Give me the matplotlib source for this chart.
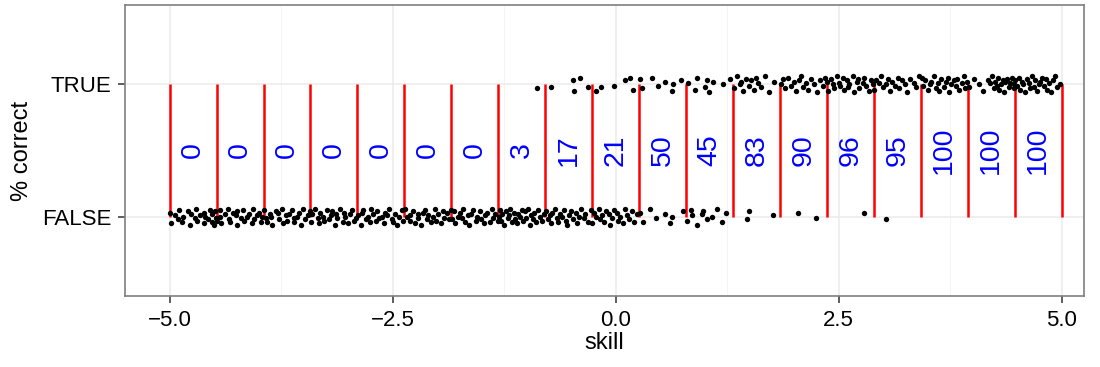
import numpy as np
import matplotlib
matplotlib.use("Agg")
import matplotlib.pyplot as plt

plt.rcParams['font.family'] = ['Liberation Sans', 'DejaVu Sans']

# skill of every item answered wrong / right, grouped by bin
false_skill = [
    -4.99, -4.98, -4.94, -4.91, -4.90, -4.86, -4.85, -4.79, -4.77, -4.76, -4.72, -4.70,
    -4.69, -4.66, -4.62, -4.61, -4.60, -4.57, -4.55, -4.53, -4.52, -4.50, -4.49, -4.48,
    -4.47, -4.44, -4.43, -4.42, -4.38, -4.35, -4.33, -4.32, -4.29, -4.26, -4.25, -4.24,
    -4.20, -4.18, -4.17, -4.13, -4.11, -4.08, -4.07, -4.05, -4.02, -4.00, -3.98, -3.96,
    -3.94, -3.92, -3.91, -3.88, -3.86, -3.85, -3.81, -3.78, -3.77, -3.74, -3.73, -3.70,
    -3.68, -3.66, -3.63, -3.61, -3.60, -3.57, -3.55, -3.53, -3.50, -3.48, -3.45, -3.43,
    -3.41, -3.40, -3.37, -3.34, -3.33, -3.31, -3.28, -3.27, -3.24, -3.21, -3.19, -3.18,
    -3.15, -3.13, -3.12, -3.09, -3.06, -3.04, -3.03, -3.00, -2.98, -2.96, -2.93, -2.91,
    -2.89, -2.86, -2.84, -2.83, -2.80, -2.78, -2.75, -2.74, -2.72, -2.69, -2.67, -2.65,
    -2.62, -2.60, -2.59, -2.56, -2.54, -2.51, -2.50, -2.47, -2.45, -2.43, -2.40, -2.38,
    -2.36, -2.34, -2.31, -2.30, -2.27, -2.25, -2.22, -2.21, -2.18, -2.16, -2.14, -2.12,
    -2.10, -2.07, -2.05, -2.03, -2.01, -1.99, -1.96, -1.94, -1.92, -1.89, -1.87, -1.85,
    -1.84, -1.81, -1.80, -1.77, -1.75, -1.72, -1.71, -1.69, -1.66, -1.64, -1.62, -1.60,
    -1.57, -1.55, -1.52, -1.51, -1.48, -1.46, -1.44, -1.41, -1.39, -1.37, -1.35, -1.32,
    -1.31, -1.30, -1.28, -1.27, -1.25, -1.23, -1.21, -1.20, -1.18, -1.16, -1.14, -1.13,
    -1.11, -1.09, -1.07, -1.05, -1.04, -1.02, -1.00, -0.98, -0.96, -0.95, -0.93, -0.91,
    -0.89, -0.87, -0.85, -0.83, -0.80,
    -0.78, -0.76, -0.74, -0.73, -0.71, -0.68, -0.66, -0.65, -0.62, -0.60, -0.58, -0.56,
    -0.54, -0.52, -0.50, -0.48, -0.45, -0.43, -0.41, -0.39, -0.36, -0.34, -0.31, -0.28,
    -0.26, -0.24, -0.22, -0.19, -0.17, -0.15, -0.13, -0.11, -0.08, -0.06, -0.04, -0.02,
    0.01, 0.03, 0.05, 0.08, 0.10, 0.13, 0.15, 0.18, 0.21, 0.24,
    0.27, 0.31, 0.38, 0.45, 0.55, 0.61, 0.63, 0.75,
    0.80, 0.84, 0.86, 0.91, 0.97, 0.98, 1.02, 1.08, 1.14, 1.19, 1.24,
    1.47, 1.50, 1.76,
    2.04, 2.25,
    2.78,
    3.03,
]
true_skill = [
    -0.88,
    -0.72, -0.48, -0.47, -0.40, -0.31,
    -0.22, -0.16, -0.02, 0.10, 0.16, 0.20,
    0.27, 0.30, 0.41, 0.47, 0.55, 0.63, 0.64, 0.73,
    0.81, 0.89, 0.91, 1.00, 1.02, 1.05, 1.09, 1.20, 1.28,
    1.33, 1.36, 1.39, 1.41, 1.43, 1.46, 1.49, 1.52, 1.55, 1.57, 1.60, 1.63, 1.67, 1.72, 1.78,
    1.85, 1.88, 1.90, 1.93, 1.97, 2.00, 2.02, 2.05, 2.08, 2.10, 2.13, 2.16, 2.19, 2.22,
    2.26, 2.29, 2.32, 2.35,
    2.37, 2.38, 2.41, 2.44, 2.45, 2.48, 2.50, 2.51, 2.55, 2.56, 2.59, 2.61, 2.62, 2.66,
    2.67, 2.70, 2.72, 2.73, 2.77, 2.78, 2.81, 2.84, 2.86, 2.89,
    2.90, 2.92, 2.95, 2.98, 3.00, 3.03, 3.05, 3.08, 3.10, 3.13, 3.16, 3.18, 3.21, 3.24,
    3.27, 3.30, 3.34, 3.37, 3.40,
    3.43, 3.45, 3.47, 3.50, 3.52, 3.54, 3.57, 3.59, 3.61, 3.63, 3.65, 3.68, 3.70, 3.72,
    3.74, 3.76, 3.79, 3.81, 3.83, 3.85, 3.88, 3.90, 3.92, 3.94,
    3.96, 4.02, 4.07, 4.12, 4.17, 4.20, 4.22, 4.24, 4.25, 4.27, 4.29, 4.30, 4.32, 4.34,
    4.35, 4.37, 4.39, 4.41, 4.42, 4.44, 4.46, 4.47,
    4.48, 4.50, 4.52, 4.53, 4.55, 4.57, 4.59, 4.61, 4.63, 4.65, 4.67, 4.69, 4.70, 4.72,
    4.74, 4.76, 4.78, 4.80, 4.82, 4.84, 4.86, 4.88, 4.90, 4.93, 4.95, 4.98,
]

# vertical jitter of each point, in hundredths of a category step
false_jitter = [
    3, -5, 1, -2, 5, -4, 0, 4, -6, 2, -1, 6, -3, 1, -5, 3, 0, -2, 5, -4, 2, -6, 4, -1,
    -3, 5, 0, -5, 2, 6, -2, -4, 3, 1, -6, 4, -1, 5, -3, 0, 2, -5, 6, -2, 1, 3, -4, 0,
    5, -1, -4, 2, 0, -6, 4, 3, -2, 6, -5, 1, -3, 2, 5, -1, -4, 0, 3, -6, 6, -2, 1, 4,
    -4, 2, 6, -1, -5, 3, 0, -3, 5, -2, 1, 4, -6, 2, -1, 6, -4, 3, 0, -5, 2, 5, -3, -1,
    1, -6, 3, 5, -2, 0, -4, 6, 2, -3, 4, -1, 0, -5, 3, 1, 6, -2, -4, 2, -6, 0, 5, -3,
    6, 0, -3, 1, 4, -5, 2, -1, -6, 3, 5, -2, 1, -4, 0, 6, -3, 2, -5, 4, -1, 3, -2, 5,
    -2, 4, -5, 0, 3, -1, 6, -4, 1, -6, 2, 5, -3, 0, 4, -2, -5, 1, 3, -4, 6, -1, 2, -3,
    0, 5, -3, 2, -6, 4, -1, 1, 6, -4, 3, -2, -5, 2, 0, 5, -3, 4, -1, 6, -6, 1, -2, 3,
    -4, 5, 0, -3, 2,
    4, -2, 1, -5, 3, 6, -1, -4, 2, 0, 5, -3, -6, 1, 4, -2, 3, -5, 0, 6, -1, 2, -4, 5,
    -5, 3, 0, 6, -2, 1, -4, 4, 2, -6, -1, 5, 3, -3, 0, -5, 6, 1, -2, 4, -4, 2,
    3, -4, 6, -1, 2, -5, 0, 4,
    -3, 5, 1, -6, 2, 4, -2, 0, 6, -4, 3,
    -2, 4, 1,
    3, -1,
    3,
    -2,
]
true_jitter = [
    -3,
    -2, 3, -5, 5, -2,
    -5, -2, -1, 3, 5, -4,
    4, -3, 5, -1, 2, -5, 0, 3,
    1, -4, 5, -2, 3, -6, 2, 0, 4,
    -3, 6, 0, 2, -5, 4, -1, 3, -4, 5, 1, -2, 6, -6, 2,
    0, 4, -3, 5, -1, 2, -5, 3, 6, -2, 1, -4, 4, 0, -6, 3, -1, 5,
    2, -5, 4, 0, -3, 6, 1, -1, 5, -4, 3, -2, 0, 6, -6, 2, 4, -3, 1, 5, -1, -5, 3, 0,
    -4, 3, 1, 6, -2, 0, 4, -5, 2, -1, 5, -3, 3, 0, -6, 4, 1, -2, 6,
    5, -1, 3, -4, 0, 2, 6, -3, 1, -5, 4, -2, 2, 5, -6, 0, 3, -1, 4, -4, 1, 6, -3, 2,
    -2, 4, 0, -5, 3, 1, 6, -3, 2, -1, 5, -4, 0, 3, -6, 2, 4, -2, 1, 5, -3, 0,
    3, -1, 5, -4, 2, 0, -6, 4, 1, -3, 6, -2, 3, -5, 0, 2, 5, -1, 4, -4, 1, -6, 3, 6, -2, 0,
]

n_bins = 19
edges = np.linspace(-5, 5, n_bins + 1)
centers = (edges[:-1] + edges[1:]) / 2

n_false, _ = np.histogram(false_skill, bins=edges)
n_true, _ = np.histogram(true_skill, bins=edges)
pct = np.round(100 * n_true / (n_true + n_false)).astype(int)

fig = plt.figure(figsize=(11, 3.67), dpi=100)
ax = fig.add_axes([125 / 1100, 1 - 296 / 367, 959 / 1100, 291 / 367])

ax.set_xlim(-5.5, 5.25)
ax.set_ylim(0.4, 2.6)

# theme_bw style grid
for x in [-3.75, -1.25, 1.25, 3.75]:
    ax.axvline(x, color='#f4f4f4', lw=0.7, zorder=0)
for x in [-5, -2.5, 0, 2.5, 5]:
    ax.axvline(x, color='#ebebeb', lw=1.1, zorder=0)
for y in [1, 2]:
    ax.axhline(y, color='#ebebeb', lw=1.1, zorder=0)

ax.vlines(edges, 1, 2, color='red', lw=1.8, zorder=2)

ax.scatter(false_skill, 1 + np.array(false_jitter) / 100, s=15, color='black',
           linewidths=0, zorder=3)
ax.scatter(true_skill, 2 + np.array(true_jitter) / 100, s=15, color='black',
           linewidths=0, zorder=3)

for c, p in zip(centers, pct):
    ax.text(c, 1.5, str(p), rotation=90, color='blue', fontsize=20.5,
            ha='center', va='center', zorder=4)

ax.set_xticks([-5, -2.5, 0, 2.5, 5])
ax.set_xticklabels(['\u22125.0', '\u22122.5', '0.0', '2.5', '5.0'])
ax.set_yticks([1, 2])
ax.set_yticklabels(['FALSE', 'TRUE'])
ax.tick_params(axis='both', length=5, width=1.1, color='#333333', labelsize=16,
               labelcolor='black', pad=5)

for sp in ax.spines.values():
    sp.set_color('#7f7f7f')
    sp.set_linewidth(1.2)

ax.set_xlabel('skill', fontsize=17, labelpad=1)
ax.set_ylabel('% correct', fontsize=17, labelpad=6)

fig.savefig('out.png', dpi=100)
